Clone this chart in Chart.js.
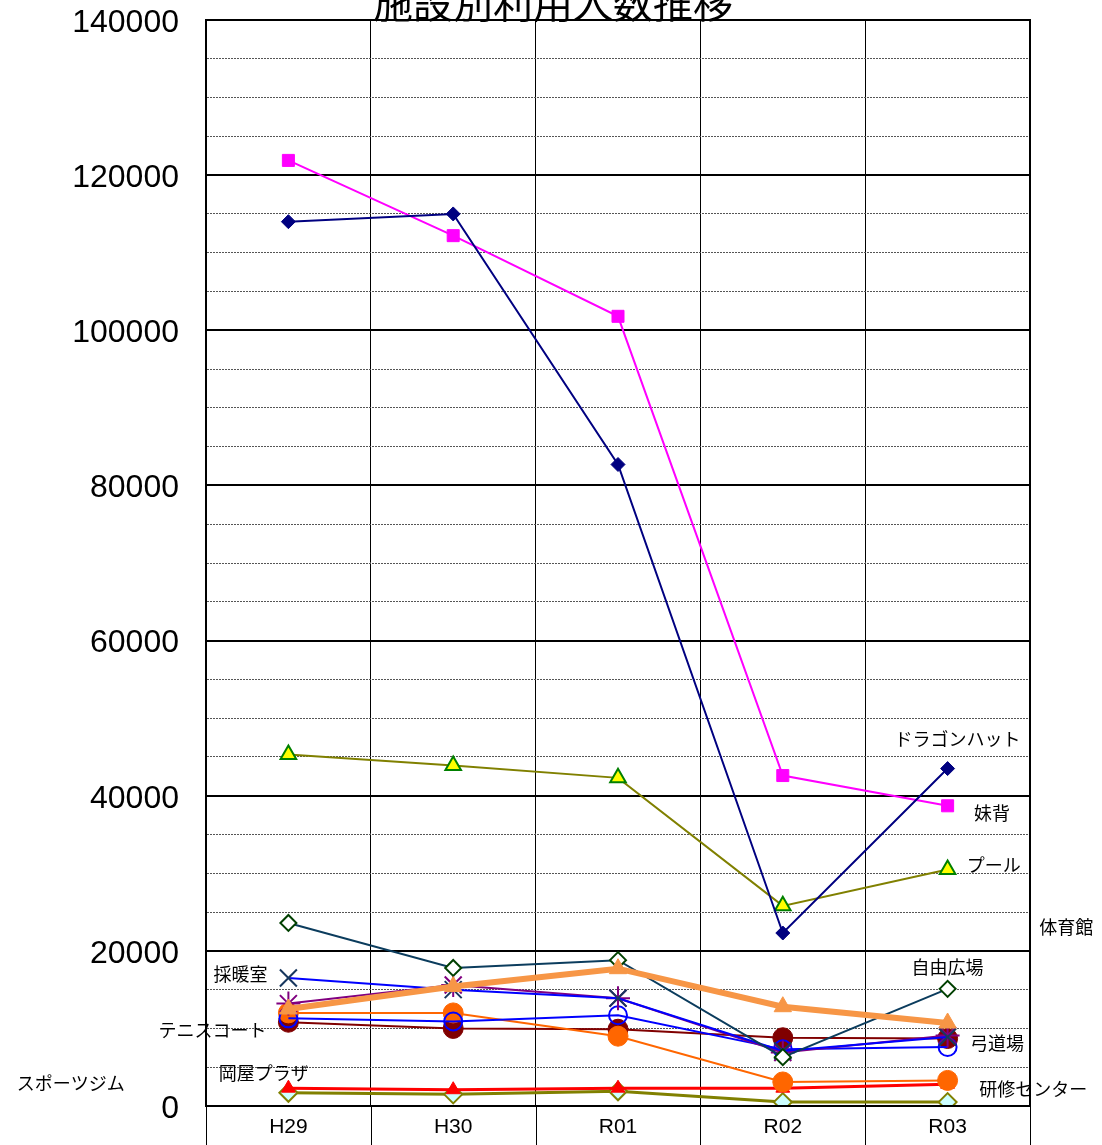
<!DOCTYPE html>
<html>
<head>
<meta charset="utf-8">
<script src="https://cdn.jsdelivr.net/npm/chart.js@4.4.0/dist/chart.umd.min.js"></script>
<style>
  body { margin: 0; background: #fff; }
  canvas { display: block; }
</style>
</head>
<body>
<canvas id="chart" width="1102" height="1145"></canvas>
<script>
// 年度
const years = ['H29', 'H30', 'R01', 'R02', 'R03']

// 施設別利用人数
const dragonHat = [114000, 115000, 82700, 22300, 43500]
const imose = [121900, 112200, 101800, 42600, 38700]
const pool = [45300, 43900, 42300, 25800, 30500]
const jiyuHiroba = [23600, 17800, 18800, 6300, 15100]
const taiikukan = [12500, 15400, 17700, 12800, 10700]
const kyudojo = [10800, 10000, 9900, 8800, 8700]
const tennis = [11300, 10900, 11700, 7300, 7600]
const saidanshitsu = [16500, 15000, 13900, 7100, 8900]
const sonota = [13200, 15600, 13900, 6900, 9100]
const kenshu = [12000, 12000, 9000, 3100, 3300]
const sportsGym = [2300, 2100, 2300, 2300, 2800]
const okayaPlaza = [1700, 1500, 1900, 500, 500]

const yTicks = [0, 20000, 40000, 60000, 80000, 100000, 120000, 140000]

// 系列名ラベル (x = 年度インデックス, y = 人数)
const seriesLabels = [
    { text: 'ドラゴンハット', x: 4.06, y: 47350 },
    { text: '妹背', x: 4.27, y: 37800 },
    { text: 'プール', x: 4.28, y: 31000 },
    { text: '体育館', x: 4.72, y: 23000 },
    { text: '自由広場', x: 4.0, y: 17950 },
    { text: '弓道場', x: 4.30, y: 8100 },
    { text: '研修センター', x: 4.52, y: 2200 },
    { text: '採暖室', x: -0.29, y: 17000 },
    { text: 'テニスコート', x: -0.46, y: 9800 },
    { text: '岡屋プラザ', x: -0.15, y: 4250 },
    { text: 'スポーツジム', x: -1.32, y: 3000 }
]

const line = (label, data, color, lineWidth, pointStyle, radius, fill, border, borderWidth) => ({
    label,
    data,
    borderColor: color,
    borderWidth: lineWidth,
    pointStyle,
    pointRadius: radius,
    pointHoverRadius: radius,
    pointBackgroundColor: fill,
    pointBorderColor: border,
    pointBorderWidth: borderWidth,
    tension: 0,
    fill: false
})

const datasets = [
    line('ドラゴンハット', dragonHat, '#000080', 2, 'rectRot', 7, '#000080', '#000080', 1),
    line('妹背', imose, '#FF00FF', 2, 'rect', 8.5, '#FF00FF', '#FF00FF', 1),
    line('プール', pool, '#808000', 2, 'triangle', 9, '#FFFF00', '#008000', 2),
    line('体育館', taiikukan, '#F79646', 6, 'triangle', 10, '#F79646', '#F79646', 1),
    line('自由広場', jiyuHiroba, '#0B3C5D', 2, 'rectRot', 8, '#FFFFFF', '#004000', 2),
    line('採暖室', saidanshitsu, '#0000FF', 2, 'crossRot', 12, '#17375E', '#17375E', 2),
    line('その他', sonota, '#800080', 2, 'star', 12, '#800080', '#800080', 2),
    line('テニスコート', tennis, '#0000FF', 2, 'circle', 9, 'rgba(255,255,255,0)', '#0000FF', 2),
    line('研修センター', kenshu, '#FF6600', 2, 'circle', 10, '#FF6600', '#FF6600', 1),
    line('弓道場', kyudojo, '#800000', 2, 'circle', 10, '#800000', '#800000', 1),
    line('スポーツジム', sportsGym, '#FF0000', 3, 'triangle', 8, '#FF0000', '#FF0000', 1),
    line('岡屋プラザ', okayaPlaza, '#808000', 3, 'rectRot', 9, '#CCFFFF', '#808000', 2)
]

const decorations = {
    id: 'decorations',
    afterDraw(chart) {
        const { ctx, chartArea, scales } = chart
        const x = scales.x
        const y = scales.y
        ctx.save()
        // 下の年度欄の縦線
        ctx.strokeStyle = '#000'
        ctx.lineWidth = 1
        for (let i = 0; i <= years.length; i++) {
            const px = Math.round(x.getPixelForValue(i - 0.5)) + 0.5
            ctx.beginPath()
            ctx.moveTo(px, chartArea.bottom)
            ctx.lineTo(px, chart.height)
            ctx.stroke()
        }
        // 枠
        ctx.lineWidth = 2
        ctx.strokeRect(chartArea.left, chartArea.top, chartArea.right - chartArea.left, chartArea.bottom - chartArea.top)
        // 系列名
        ctx.fillStyle = '#000'
        ctx.font = '18px "Noto Sans CJK JP"'
        ctx.textAlign = 'center'
        ctx.textBaseline = 'middle'
        seriesLabels.forEach(l => {
            ctx.fillText(l.text, x.getPixelForValue(l.x), y.getPixelForValue(l.y))
        })
        // タイトル
        ctx.font = '40px "Noto Sans CJK JP"'
        ctx.fillText('施設別利用人数推移', (chartArea.left + chartArea.right) / 2 - 65, 3)
        ctx.restore()
    }
}

const canvas = document.getElementById('chart')
new Chart(canvas, {
    type: 'line',
    data: { labels: years, datasets },
    plugins: [decorations],
    options: {
        responsive: false,
        animation: false,
        layout: { padding: { top: 20, right: 72, bottom: 0, left: 0 } },
        plugins: {
            legend: { display: false },
            title: { display: false },
            tooltip: { enabled: false }
        },
        scales: {
            x: {
                offset: true,
                afterFit: scale => {
                    scale.height = 39
                    scale.paddingLeft = 0
                    scale.paddingRight = 0
                },
                grid: {
                    offset: true,
                    drawTicks: false,
                    color: '#000',
                    lineWidth: 1
                },
                border: { display: true, color: '#000', width: 2 },
                ticks: {
                    padding: 9,
                    color: '#000',
                    font: { family: '"Liberation Sans", Arial', size: 21 }
                }
            },
            y: {
                min: 0,
                max: 140000,
                afterFit: scale => {
                    scale.width = 206
                    scale.paddingTop = 0
                    scale.paddingBottom = 0
                },
                grid: {
                    drawTicks: false,
                    color: ctx => ctx.tick && ctx.tick.value % 20000 === 0 ? '#000' : '#555',
                    lineWidth: ctx => ctx.tick && ctx.tick.value % 20000 === 0 ? 2 : 1
                },
                border: {
                    display: true,
                    color: '#000',
                    width: 2,
                    dash: ctx => ctx.tick && ctx.tick.value % 20000 === 0 ? [] : [2, 1]
                },
                ticks: {
                    stepSize: 5000,
                    autoSkip: false,
                    maxTicksLimit: 100,
                    padding: 27,
                    labelOffset: 3,
                    color: '#000',
                    font: { family: '"Liberation Sans", Arial', size: 32 },
                    callback: v => yTicks.includes(v) ? String(v) : ''
                }
            }
        }
    }
})
</script>
</body>
</html>
